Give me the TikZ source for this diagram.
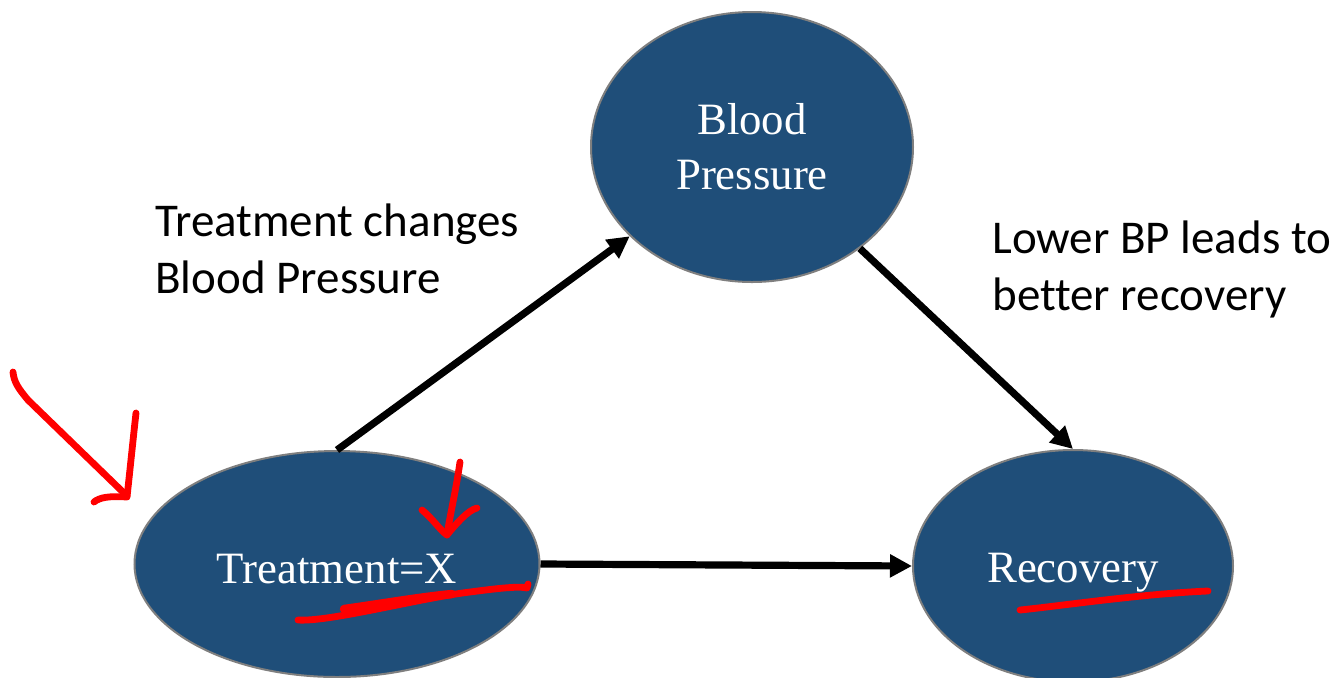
\documentclass[tikz,border=0pt]{standalone}
\usepackage{fontspec}
\setmainfont{Liberation Serif}
\newfontfamily\labelfont[Ligatures=NoCommon]{Carlito}
\usetikzlibrary{shapes.geometric,arrows.meta}
\definecolor{nodeblue}{RGB}{31,78,121}
\definecolor{rimgray}{RGB}{127,127,127}
\begin{document}
\begin{tikzpicture}[x=0.5pt,y=-0.5pt,
  causenode/.style={ellipse,fill=nodeblue,draw=rimgray,line width=1pt,inner sep=0pt,
    text=white,align=center,font={\fontsize{22.4}{27.5}\selectfont}},
  note/.style={anchor=north west,inner sep=0pt,align=left,
    font={\labelfont\fontsize{23.5}{28.5}\selectfont}},
  effect/.style={line width=3.6pt,-{Triangle[length=11pt,width=11pt]}},
  ink/.style={red,line width=3.4pt,line cap=round,line join=round}]
\useasboundingbox (0,0) rectangle (1341,677);
% causal nodes
\node[causenode,minimum width=161pt,minimum height=135pt] (bp) at (752,147) {Blood\\Pressure};
\node[causenode,minimum width=202.5pt,minimum height=113pt,text height=19pt,text depth=0pt] (treat) at (337,564) {Treatment=X};
\node[causenode,minimum width=160pt,minimum height=116pt,text height=16pt,text depth=0pt] (rec) at (1073,566) {Recovery};
% causal links
\draw[effect] (treat.north) -- (bp);
\draw[effect] (bp) -- (rec.north);
\draw[effect] (treat.east) -- (rec.west);
% explanations
\node[note] (n1) at (155,203) {Treatment changes\\Blood Pressure};
\node[note] (n2) at (992,220) {Lower BP leads to\\better recovery};
% red pen annotations
\draw[ink] (13,372) .. controls (14,382) and (18,388) .. (28,400) -- (127,496);
\draw[ink] (136,413) .. controls (133,440) and (130,470) .. (127,497)
  .. controls (110,496) and (100,497) .. (94,502);
\draw[ink] (460,462) .. controls (456,490) and (450,515) .. (447,535);
\draw[ink] (422,510) .. controls (432,518) and (440,530) .. (447,535)
  .. controls (455,525) and (468,510) .. (477,508);
\draw[ink] (298,620) .. controls (330,622) and (420,598) .. (470,592)
  .. controls (500,588) and (520,586) .. (527,588) -- (528,584);
\draw[ink,line width=4.2pt] (344,609) .. controls (380,604) and (420,597) .. (452,594);
\draw[ink] (1020,610) .. controls (1060,606) and (1140,594) .. (1208,591);
\end{tikzpicture}
\end{document}
